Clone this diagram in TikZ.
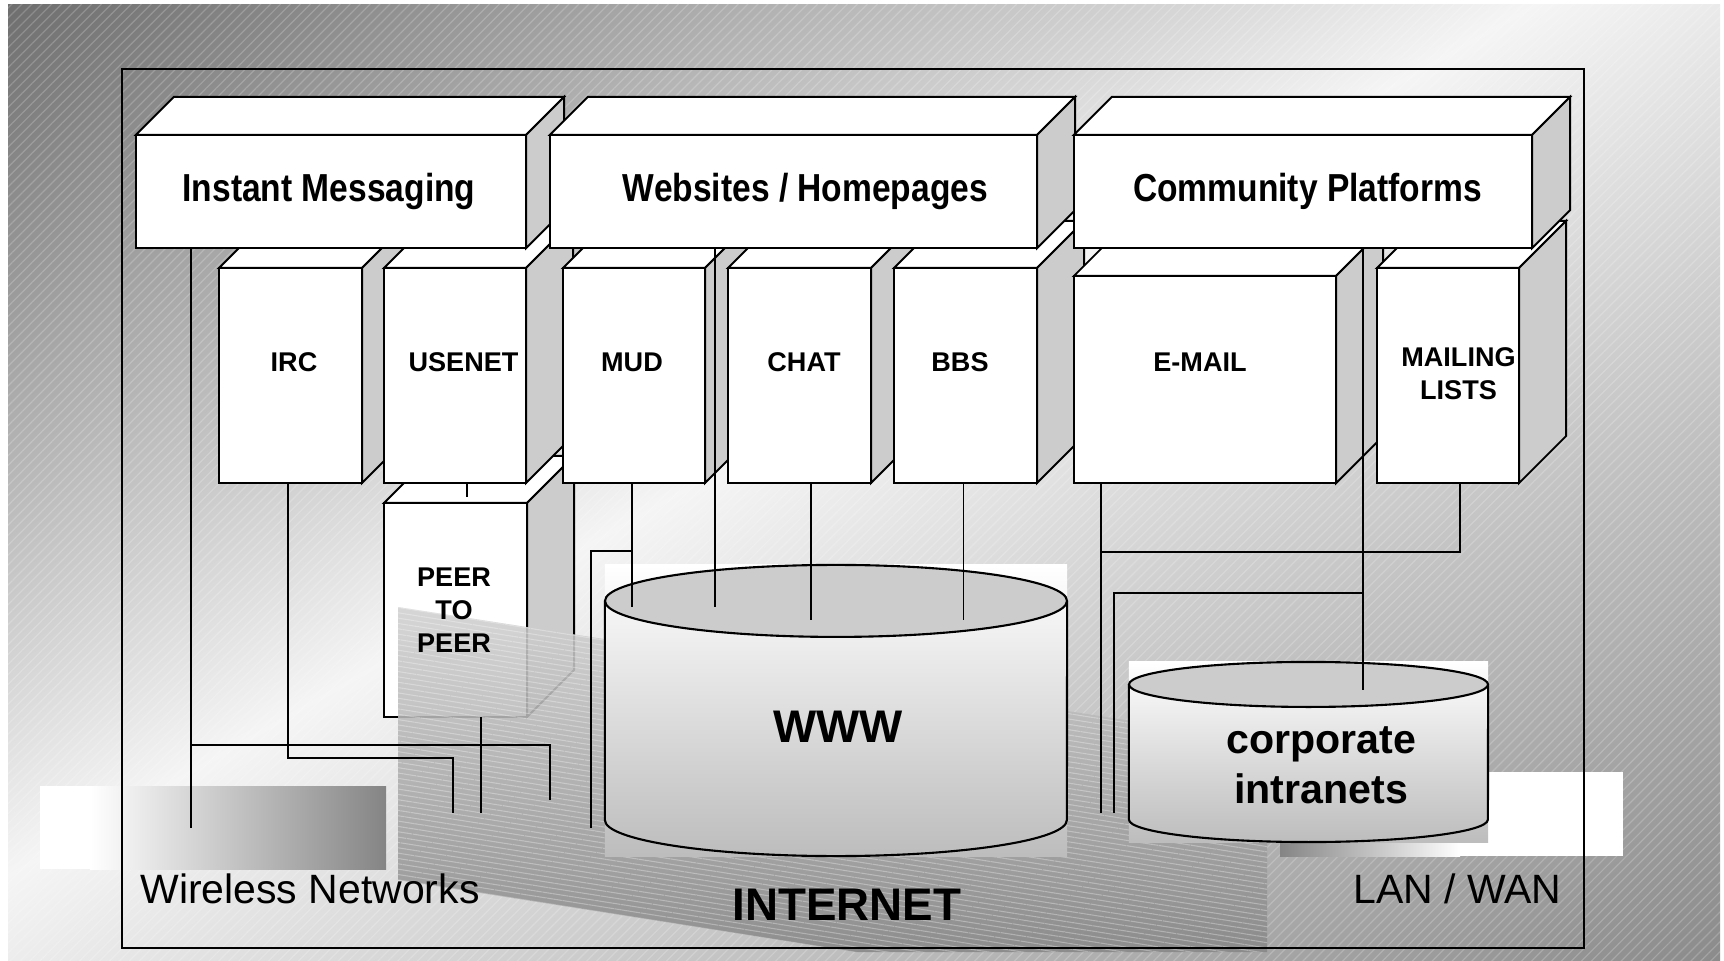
\documentclass[tikz,border=0pt]{standalone}
\usepackage{fontspec}
\setmainfont{Liberation Sans}
\newfontfamily\narrowfont[FakeStretch=0.86]{Liberation Sans}
\usetikzlibrary{calc,patterns.meta}
\definecolor{sidegray}{gray}{0.8}
\definecolor{lidgray}{gray}{0.8}

\begin{document}
\begin{tikzpicture}[x=0.01cm, y=-0.01cm,
	face/.style={draw, line width=0.55pt, fill=white},
	front/.style={face, inner sep=0pt, outer sep=0pt},
	wire/.style={line width=0.42pt},
	cylbox/.style={inner sep=0pt, outer sep=0pt, top color=white, bottom color=black!26},
	boxtext/.style={font=\bfseries\fontsize{7.7pt}{9.3pt}\selectfont, align=center, inner sep=0pt},
	headtext/.style={font=\narrowfont\bfseries\fontsize{11.1pt}{13pt}\selectfont},
	bigtext/.style={font=\bfseries\fontsize{13pt}{15pt}\selectfont},
	nettext/.style={font=\fontsize{11.65pt}{14pt}\selectfont}]
	\useasboundingbox (0,0) rectangle (1724,961);
	
	% background
	\begin{scope}
		\clip (8,5) rectangle (1720,961);
		\begin{scope}[transform canvas={rotate around={29.7:(822,411)}}]
			\shade[top color=black!69, bottom color=black!46, middle color=black!4] (-478,-519) rectangle (2122,1341);
		\end{scope}
	\end{scope}
	\fill[pattern={Lines[angle=45,distance=2pt,line width=0.35pt]}, pattern color=white, opacity=0.2] (8,5) rectangle (1720,961);
	
	\fill[white] (40,786) rectangle (90,869);
	\shade[left color=white, right color=black!48] (90,786) rectangle (386,869);
	\shade[left color=black!48, right color=white] (1280,772) rectangle (1460,856);
	\fill[white] (1460,772) rectangle (1623,856);
	
	% lower boxes
	\foreach \n/\cx/\cy/\w/\h in {peer/455.5/610/1.43cm/2.14cm, irc/290.5/375.5/1.43cm/2.15cm, usenet/455/375.5/1.42cm/2.15cm, mud/634/375.5/1.42cm/2.15cm, chat/799.5/375.5/1.43cm/2.15cm, bbs/965.5/375.5/1.43cm/2.15cm, email/1205/379.5/2.62cm/2.07cm, mailing/1448/375.5/1.42cm/2.15cm}{
		\node[front, minimum width=\w, minimum height=\h] (\n) at (\cx,\cy) {};
		\path[face] (\n.north west) -- ++(47,-47) -- ($(\n.north east)+(47,-47)$) -- (\n.north east) -- cycle;
		\path[face, fill=sidegray] (\n.north east) -- ++(47,-47) -- ($(\n.south east)+(47,-47)$) -- (\n.south east) -- cycle;
	}
	
	% top boxes
	\foreach \n/\cx/\w/\dx/\t in {im/331/3.9cm/-2/Instant Messaging, web/793.5/4.87cm/12/{Websites / Homepages}, comm/1303/4.58cm/4.5/Community Platforms}{
		\node[front, minimum width=\w, minimum height=1.13cm] (\n) at (\cx,191.5) {};
		\path[face] (\n.north west) -- ++(38,-38) -- ($(\n.north east)+(38,-38)$) -- (\n.north east) -- cycle;
		\path[face, fill=sidegray] (\n.north east) -- ++(38,-38) -- ($(\n.south east)+(38,-38)$) -- (\n.south east) -- cycle;
		\node[headtext] (\n-t) at ($(\n.center)+(\dx,0)$) {\t};
	}
	
	% internet band
	\shade[top color=black!18, bottom color=black!47, fill opacity=0.88] (398,607) -- (1267,742) -- (1267,952) -- (856,952) -- (398,880) -- cycle;
	\fill[pattern={Lines[angle=-9,distance=1.5pt,line width=0.3pt]}, pattern color=white, opacity=0.3] (398,607) -- (1267,742) -- (1267,952) -- (856,952) -- (398,880) -- cycle;
	
	% cylinders
	\node[cylbox, minimum width=4.62cm, minimum height=2.91cm] (www) at (836,710.5) {};
	\draw[line width=0.6pt] ($(www.north west)+(0,36)$) -- ($(www.south west)+(0,-36)$) arc[start angle=180, end angle=0, x radius=231, y radius=36] -- ($(www.north east)+(0,36)$);
	\filldraw[fill=lidgray, line width=0.6pt] ($(www.north)+(0,36)$) ellipse[x radius=231, y radius=36];
	
	\node[cylbox, minimum width=3.59cm, minimum height=1.8cm] (corp) at (1308.5,752) {};
	\draw[line width=0.6pt] ($(corp.north west)+(0,22.5)$) -- ($(corp.south west)+(0,-22.5)$) arc[start angle=180, end angle=0, x radius=179.5, y radius=22.5] -- ($(corp.north east)+(0,22.5)$);
	\filldraw[fill=lidgray, line width=0.6pt] ($(corp.north)+(0,22.5)$) ellipse[x radius=179.5, y radius=22.5];
	
	\draw[line width=0.45pt] (122,69) rectangle (1584,948);
	
	% connectors
	\draw[wire] ($(im.south west)+(55,0)$) -- ++(0,580);
	\draw[wire] ($(im.south west)+(55,497)$) -| ++(359,55);
	\draw[wire] ($(irc.south)+(-2.5,0)$) -- ++(0,275) -| ++(165,55);
	\draw[wire] ($(usenet.south)+(12,0)$) -- ++(0,14);
	\draw[wire] ($(peer.south)+(25.5,0)$) -- ++(0,96);
	\draw[wire] ($(mud.south)+(-2,0)$) -- ++(0,124);
	\draw[wire] ($(mud.south)+(-2,68)$) -| ++(-41,277);
	\draw[wire] ($(web.south west)+(165,0)$) -- ++(0,359);
	\draw[wire] ($(chat.south)+(11.5,0)$) -- ++(0,137);
	\draw[wire] ($(bbs.south)+(-2,0)$) -- ++(0,137);
	\draw[wire] ($(email.south west)+(27,0)$) -- ++(0,330);
	\draw[wire] ($(email.south west)+(27,69)$) -| ($(mailing.south)+(12,0)$);
	\draw[wire] ($(comm.south west)+(289,0)$) -- ++(0,442);
	\draw[wire] ($(comm.south west)+(289,345)$) -| ++(-249,220);
	
	% labels
	\foreach \n/\dx/\dy/\t in {peer/-1.5/-107/PEER\\TO\\PEER, irc/3.5/-121/IRC, usenet/8.5/-121/USENET, mud/-2/-121/MUD, chat/4.5/-121/CHAT, bbs/-5.5/-121/BBS, email/-5/-121/E-MAIL, mailing/10.5/-109.5/MAILING\\LISTS}
		\node[boxtext] (\n-t) at ($(\n.south)+(\dx,\dy)$) {\t};
	
	\node[bigtext] (www-t) at (838,727) {WWW};
	\node[font=\bfseries\fontsize{11.7pt}{14.2pt}\selectfont, align=center] (corp-t) at (1321,765) {corporate\\intranets};
	\node[bigtext] (inet) at (847,904.5) {INTERNET};
	\node[nettext] (wireless) at (310,889) {Wireless Networks};
	\node[nettext] (lanwan) at (1457.5,889) {LAN / WAN};
\end{tikzpicture}
\end{document}
